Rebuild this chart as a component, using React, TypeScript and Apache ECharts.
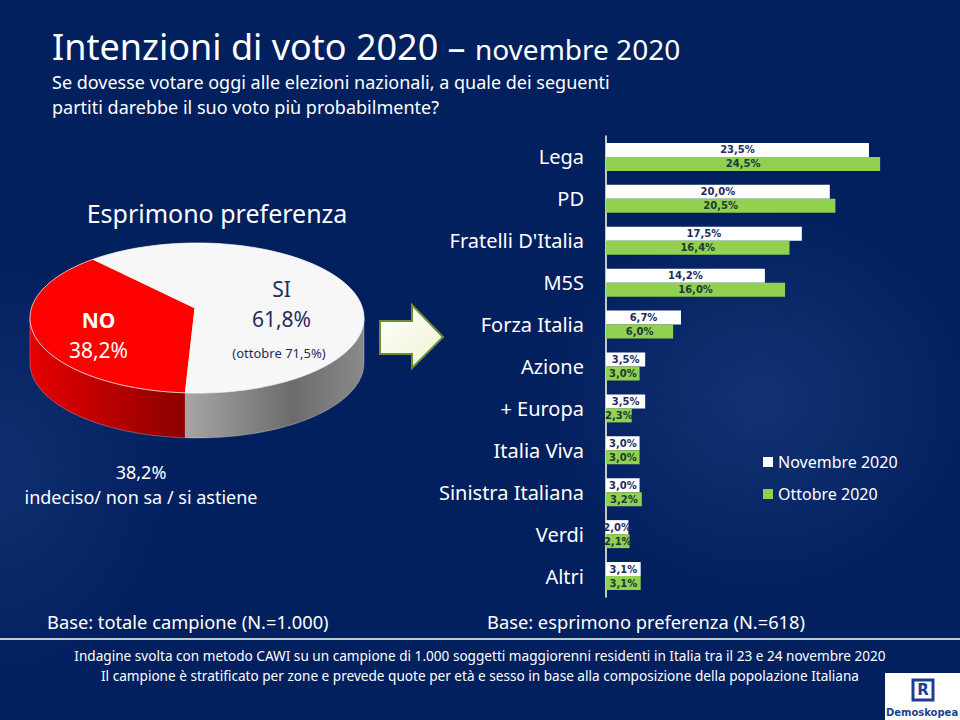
import React, { useEffect, useRef } from "react";
import * as echarts from "echarts";

const categories = ["Lega", "PD", "Fratelli D'Italia", "M5S", "Forza Italia", "Azione", "+ Europa", "Italia Viva", "Sinistra Italiana", "Verdi", "Altri"];
const novembre = [23.5, 20.0, 17.5, 14.2, 6.7, 3.5, 3.5, 3.0, 3.0, 2.0, 3.1];
const ottobre = [24.5, 20.5, 16.4, 16.0, 6.0, 3.0, 2.3, 3.0, 3.2, 2.1, 3.1];
const seriesNames = ["Novembre 2020", "Ottobre 2020"];

const pieNames = ["NO", "SI"];
const pieValues = [38.2, 61.8];
const pieOctoberSI = 71.5;

const FONT = "'Noto Sans', 'Open Sans', sans-serif";
const fmt = (v: number) => v.toFixed(1).replace(".", ",") + "%";

function txt(text: string, x: number, y: number, size: number, opts: any = {}) {
  const align = opts.align || "left";
  const va = opts.va || "middle";
  return {
    type: "text",
    x,
    y,
    z: 100,
    silent: true,
    style: {
      text,
      fill: opts.color || "#ffffff",
      fontSize: size,
      fontFamily: opts.family || FONT,
      fontWeight: opts.weight || "normal",
      align,
      textAlign: align,
      verticalAlign: va,
      textVerticalAlign: va,
    },
  };
}

export default function App() {
  const ref = useRef<HTMLDivElement>(null);

  useEffect(() => {
    if (!ref.current) return;
    const chart = echarts.init(ref.current, undefined, { renderer: "svg" });

    const cx = 197, cy = 318, rx = 167, ry = 75, depth = 45;
    const apexX = 195, apexY = 308;
    const total = pieValues.reduce((a, b) => a + b, 0);
    const START = 266;
    const pt = (deg: number, dy = 0) => {
      const r = (deg * Math.PI) / 180;
      return [cx + rx * Math.cos(r), cy - ry * Math.sin(r) + dy];
    };
    const arc = (from: number, to: number, dy = 0) => {
      const pts: number[][] = [];
      const n = Math.max(2, Math.ceil(Math.abs(to - from) / 2));
      for (let k = 0; k <= n; k++) pts.push(pt(from + ((to - from) * k) / n, dy));
      return pts;
    };

    const renderPie = (params: any, api: any) => {
      const i = params.dataIndex;
      const v = api.value(0) as number;
      let before = 0;
      for (let k = 0; k < i; k++) before += pieValues[k];
      const hi = START - (before / total) * 360;
      const lo = hi - (v / total) * 360;
      const children: any[] = [];
      const fronts = [
        [-180, 0],
        [180, 360],
      ];
      fronts.forEach(([f0, f1]) => {
        const s = Math.max(lo, f0);
        const e = Math.min(hi, f1);
        if (e > s) {
          const pts = arc(s, e).concat(arc(e, s, depth));
          const fill =
            i === 0
              ? new echarts.graphic.LinearGradient(0, 0, 1, 0, [
                  { offset: 0, color: "#e60000" },
                  { offset: 1, color: "#8c0000" },
                ])
              : new echarts.graphic.LinearGradient(0, 0, 1, 0, [
                  { offset: 0, color: "#a6a6a6" },
                  { offset: 0.6, color: "#6c6c6c" },
                  { offset: 1, color: "#8a8a8a" },
                ]);
          children.push({ type: "polygon", shape: { points: pts }, style: { fill, stroke: "rgba(255,255,255,0.35)", lineWidth: 0.8 } });
        }
      });
      const top = [[apexX, apexY]].concat(arc(hi, lo));
      children.push({
        type: "polygon",
        shape: { points: top },
        style: {
          fill: i === 0 ? "#ff0000" : "#f7f7f7",
          stroke: "rgba(255,255,255,0.7)",
          lineWidth: 1,
        },
      });
      const mid = (((hi + lo) / 2) * Math.PI) / 180;
      const lx = cx + 0.58 * rx * Math.cos(mid) + (i === 0 ? -6 : -8);
      const ly = cy - 0.58 * ry * Math.sin(mid) + (i === 0 ? 4 : -1);
      const col = i === 0 ? "#ffffff" : "#1f2d5c";
      children.push({
        type: "text",
        x: lx,
        y: ly - 15,
        style: { text: pieNames[i], fill: col, fontSize: 21, fontFamily: FONT, fontWeight: i === 0 ? "bold" : "normal", align: "center", verticalAlign: "middle" },
      });
      children.push({
        type: "text",
        x: lx,
        y: ly + 15,
        style: { text: fmt(v), fill: col, fontSize: 21, fontFamily: FONT, align: "center", verticalAlign: "middle" },
      });
      return { type: "group", children };
    };

    const barLabel = (color: string) => ({
      show: true,
      position: "inside",
      formatter: (p: any) => fmt(p.value),
      color,
      fontSize: 10,
      fontWeight: "bold",
      fontFamily: "'DejaVu Sans', Verdana, sans-serif",
    });

    const option: any = {
      animation: false,
      backgroundColor: "transparent",
      textStyle: { fontFamily: FONT },
      legend: {
        orient: "vertical",
        left: 758,
        top: 449,
        itemWidth: 10,
        itemHeight: 10,
        itemGap: 16,
        icon: "rect",
        data: seriesNames,
        textStyle: { color: "#ffffff", fontSize: 16, fontFamily: FONT },
      },
      grid: { left: 606, top: 136, width: 279.75, height: 461, containLabel: false },
      xAxis: { type: "value", min: 0, max: 25, show: false },
      yAxis: {
        type: "category",
        data: categories,
        inverse: true,
        axisLine: { show: true, lineStyle: { color: "#ffffff", width: 1.5 } },
        axisTick: { show: false },
        axisLabel: { color: "#ffffff", fontSize: 20, fontFamily: FONT, margin: 22 },
        splitLine: { show: false },
      },
      series: [
        {
          name: seriesNames[0],
          type: "bar",
          data: novembre,
          barWidth: 14,
          barGap: "0%",
          itemStyle: { color: "#ffffff" },
          label: barLabel("#1f2d5c"),
        },
        {
          name: seriesNames[1],
          type: "bar",
          data: ottobre,
          barWidth: 14,
          barGap: "0%",
          itemStyle: { color: "#92d050" },
          label: barLabel("#1b3a33"),
        },
        {
          type: "custom",
          coordinateSystem: "none",
          renderItem: renderPie,
          data: pieValues.map((v, i) => ({ name: pieNames[i], value: [v] })),
          silent: true,
        },
      ],
      graphic: [
        {
          type: "text",
          x: 52,
          y: 46,
          z: 100,
          silent: true,
          style: {
            text: "{a|Intenzioni di voto 2020 –} {b|novembre 2020}",
            verticalAlign: "middle",
            textVerticalAlign: "middle",
            rich: {
              a: { fontSize: 36, fontFamily: FONT, fill: "#ffffff", color: "#ffffff" },
              b: { fontSize: 28, fontFamily: FONT, fill: "#ffffff", color: "#ffffff", padding: [6, 0, 0, 6] },
            },
          },
        },
        txt("Se dovesse votare oggi alle elezioni nazionali, a quale dei seguenti", 52, 82, 18),
        txt("partiti darebbe il suo voto più probabilmente?", 52, 107, 18),
        txt("Esprimono preferenza", 217, 213, 25, { align: "center" }),
        txt("(ottobre " + fmt(pieOctoberSI) + ")", 279, 353, 13, { align: "center", color: "#1f2d5c" }),
        txt(fmt(pieValues[0]), 141, 472, 18, { align: "center" }),
        txt("indeciso/ non sa / si astiene", 141, 497, 18, { align: "center" }),
        {
          type: "polygon",
          silent: true,
          z: 100,
          shape: {
            points: [
              [380, 321],
              [412, 321],
              [412, 305],
              [443, 337],
              [412, 368],
              [412, 354],
              [380, 354],
            ],
          },
          style: {
            fill: new echarts.graphic.LinearGradient(0, 0, 1, 1, [
              { offset: 0, color: "#ffffff" },
              { offset: 1, color: "#eef2d2" },
            ]),
            stroke: "#6f8f2f",
            lineWidth: 2,
          },
        },
        txt("Base: totale campione (N.=1.000)", 47, 621, 18.3),
        txt("Base: esprimono preferenza (N.=618)", 487, 621, 18.3),
        {
          type: "line",
          silent: true,
          z: 100,
          shape: { x1: 0, y1: 639, x2: 960, y2: 639 },
          style: { stroke: "#ffffff", lineWidth: 1.5 },
        },
        txt("Indagine svolta con metodo CAWI su un campione di 1.000 soggetti maggiorenni residenti in Italia tra il 23 e 24 novembre 2020", 480, 655, 13.6, { align: "center" }),
        txt("Il campione è stratificato per zone e prevede quote per età e sesso in base alla composizione della popolazione Italiana", 480, 675, 13.6, { align: "center" }),
        {
          type: "rect",
          silent: true,
          z: 100,
          shape: { x: 885, y: 673, width: 75, height: 47 },
          style: { fill: "#ffffff" },
        },
        {
          type: "rect",
          silent: true,
          z: 101,
          shape: { x: 913, y: 680, width: 20, height: 20 },
          style: { fill: "#ffffff", stroke: "#1c3f94", lineWidth: 3 },
        },
        { ...txt("R", 923, 690, 15, { align: "center", color: "#1c3f94", weight: "bold", family: "'DejaVu Sans', sans-serif" }), z: 102 },
        { ...txt("Demoskopea", 922, 712, 10, { align: "center", color: "#1c3f94", weight: "bold", family: "'DejaVu Sans', sans-serif" }), z: 102 },
      ],
    };
    chart.setOption(option);
    return () => chart.dispose();
  }, []);

  return (
    <div
      ref={ref}
      style={{
        position: "fixed",
        left: 0,
        top: 0,
        width: 960,
        height: 720,
        background:
          "radial-gradient(ellipse 220px 200px at 760px 400px, rgba(70,110,180,0.25), rgba(0,0,0,0)), radial-gradient(ellipse 180px 220px at 0px 470px, rgba(70,110,180,0.2), rgba(0,0,0,0)), #021f5e",
      }}
    />
  );
}
